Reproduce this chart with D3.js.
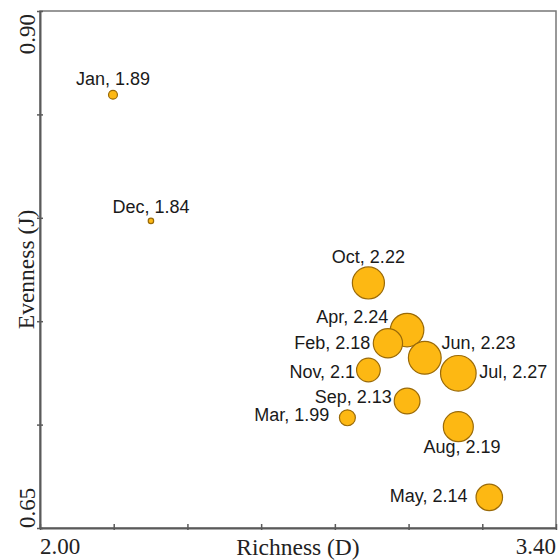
<!DOCTYPE html>
<html><head><meta charset="utf-8">
<script src="https://cdn.jsdelivr.net/npm/d3@7/dist/d3.min.js"></script>
<style>body{margin:0;background:#fff}svg{display:block}</style>
</head><body>
<script>
const months   = ["Jan","Dec","Oct","Apr","Feb","Jun","Jul","Nov","Sep","Mar","Aug","May"];
const richness = [2.198,2.301,2.891,2.996,2.944,3.044,3.135,2.891,2.996,2.834,3.135,3.219];
const evenness = [0.8595,0.7985,0.7685,0.7457,0.7393,0.7323,0.7248,0.7264,0.7114,0.7033,0.6990,0.6648];
const diversity= [1.89,1.84,2.22,2.24,2.18,2.23,2.27,2.1,2.13,1.99,2.19,2.14];
const diversityText = ["1.89","1.84","2.22","2.24","2.18","2.23","2.27","2.1","2.13","1.99","2.19","2.14"];
const xTicks = [2.0,2.2,2.4,2.6,2.8,3.0,3.2,3.4];
const yTicks = [0.65,0.70,0.75,0.80,0.85,0.90];
const xTickLabels = ["2.00","3.40"];
const yTickLabels = ["0.65","0.90"];

// label layout (anchor, dx, dy) in px relative to bubble centre
const labelLayout = [
  ["middle",0,-10],["middle",0,-8],["middle",0,-20],["end",-18.7,-7.3],
  ["end",-17.6,5.7],["start",16.6,-8.7],["start",21,4.7],["end",-13.3,7.7],
  ["end",-15.4,2],["end",-18,3],["middle",3.7,26.6],["end",-21.7,4.4]
];

const W=560,H=560;
const svg=d3.select("body").append("svg").attr("width",W).attr("height",H);
const x=d3.scaleLinear().domain([2.0,3.4]).range([40,556]);
const y=d3.scaleLinear().domain([0.65,0.90]).range([528,11]);
const r=d3.scaleLinear().domain([1.84,2.27]).range([2.7,17.8]);
const axisCol="#5a5a5a";

// frame
svg.append("rect").attr("x",40).attr("y",11).attr("width",516).attr("height",517)
  .attr("fill","none").attr("stroke","#777").attr("stroke-width",1.5);

const gx=svg.append("g").attr("transform","translate(0,528)")
  .call(d3.axisBottom(x).tickValues(xTicks).tickSize(0).tickFormat(""));
gx.select(".domain").attr("stroke",axisCol).attr("stroke-width",2);
gx.selectAll(".tick").append("line").attr("y1",-4).attr("y2",2).attr("stroke",axisCol).attr("stroke-width",1.5);

const gy=svg.append("g").attr("transform","translate(40,0)")
  .call(d3.axisLeft(y).tickValues(yTicks).tickSize(0).tickFormat(""));
gy.select(".domain").attr("stroke",axisCol).attr("stroke-width",2);
gy.selectAll(".tick").append("line").attr("x1",-3).attr("x2",3).attr("stroke",axisCol).attr("stroke-width",1.5);

const serif="'Liberation Serif','Times New Roman',serif";
// x tick labels
svg.append("text").attr("x",x(2.0)).attr("y",554).attr("text-anchor","start")
  .attr("font-family",serif).attr("font-size",23).attr("fill","#222").text(xTickLabels[0]);
svg.append("text").attr("x",x(3.4)).attr("y",554).attr("text-anchor","end")
  .attr("font-family",serif).attr("font-size",23).attr("fill","#222").text(xTickLabels[1]);
// y tick labels
svg.append("text").attr("transform",`translate(35,${y(0.65)}) rotate(-90)`).attr("text-anchor","start")
  .attr("font-family",serif).attr("font-size",23).attr("fill","#222").text(yTickLabels[0]);
svg.append("text").attr("transform",`translate(35,${y(0.90)+3}) rotate(-90)`).attr("text-anchor","end")
  .attr("font-family",serif).attr("font-size",23).attr("fill","#222").text(yTickLabels[1]);

// axis titles
svg.append("text").attr("x",(x(2.0)+x(3.4))/2).attr("y",555).attr("text-anchor","middle")
  .attr("font-family",serif).attr("font-size",23.5).attr("fill","#222").text("Richness (D)");
svg.append("text").attr("transform",`translate(34,${(y(0.65)+y(0.90))/2}) rotate(-90)`).attr("text-anchor","middle")
  .attr("font-family",serif).attr("font-size",23.5).attr("fill","#222").text("Evenness (J)");

const data=months.map((m,i)=>({m,x:richness[i],y:evenness[i],d:diversity[i],t:diversityText[i],l:labelLayout[i]}));

svg.append("g").selectAll("circle").data(data).join("circle")
  .attr("cx",d=>x(d.x)).attr("cy",d=>y(d.y)).attr("r",d=>r(d.d))
  .attr("fill","#FDB813").attr("stroke","#9A6A08").attr("stroke-width",1.2);

svg.append("g").selectAll("text").data(data).join("text")
  .attr("x",d=>x(d.x)+d.l[1]).attr("y",d=>y(d.y)+d.l[2]).attr("text-anchor",d=>d.l[0])
  .attr("font-family","'Liberation Sans',Arial,sans-serif").attr("font-size",18).attr("fill","#1a1a1a")
  .text(d=>`${d.m}, ${d.t}`);
</script>
</body></html>
